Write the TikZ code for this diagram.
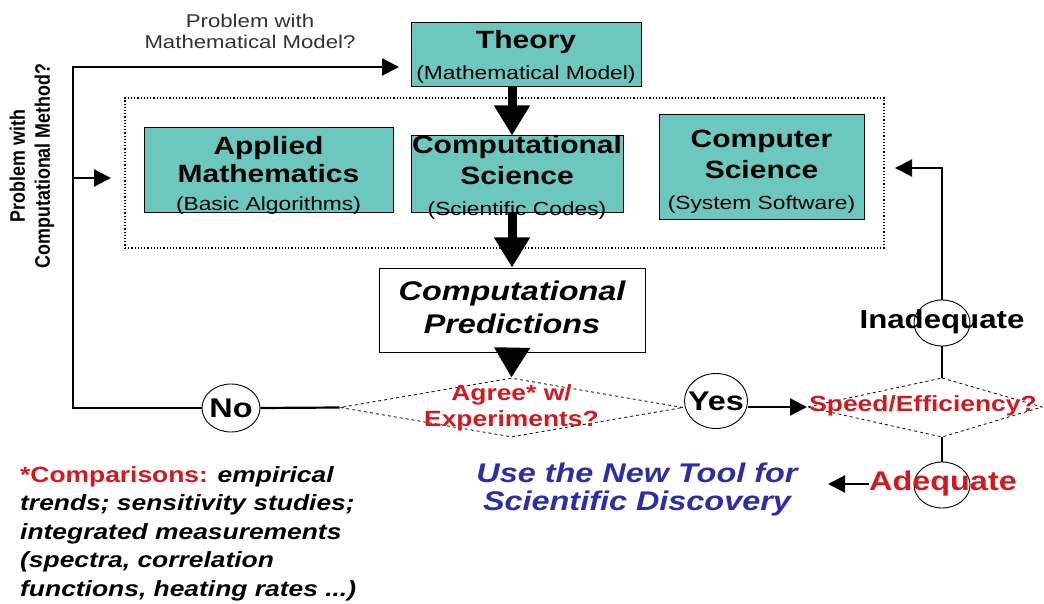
\documentclass[tikz,border=0pt]{standalone}
\usepackage{fontspec}
\setmainfont{Liberation Sans}[FakeStretch=1.2]
\newfontfamily\narrowfont{Liberation Sans}[FakeStretch=0.85]
\usetikzlibrary{arrows.meta,shapes.geometric}
\definecolor{tealfill}{RGB}{108,200,190}
\definecolor{myred}{RGB}{210,25,30}
\definecolor{myblue}{RGB}{45,45,165}
\definecolor{mygray}{RGB}{50,50,50}
\newcommand\fs[2]{\fontsize{#1}{#2}\selectfont}
\begin{document}
\begin{tikzpicture}[x=1pt,y=-1pt,
  box/.style={draw=black, line width=1, fill=tealfill, inner sep=0},
  boxtext/.style={inner sep=0, align=center, font=\fs{25}{31}\bfseries},
  heavy/.style={line width=9, -{Triangle[width=34pt,length=30pt]}},
  conn/.style={line width=2.2},
  thinarrow/.style={line width=2.2, -{Triangle[width=17pt,length=17pt]}},
  dia/.style={shape=diamond, draw, dashed, line width=0.8, inner sep=0},
  ell/.style={ellipse, draw, line width=0.9, inner sep=0},
  redtxt/.style={text=myred, align=center, inner sep=0},
  big/.style={font=\fs{27}{30}\bfseries, inner sep=0}
]
\useasboundingbox (0,0) rectangle (1044,604);

% dotted group
\node[draw, dotted, line width=1.2, minimum width=759, minimum height=150, inner sep=0] (group) at (504.5,173) {};

% boxes
\node[box, minimum width=230, minimum height=64] (theory) at (526,55) {};
\node[boxtext] (theoryt) at ([yshift=-2]theory.center)
  {Theory\\{\mdseries\fs{19}{29}(Mathematical Model)}};
\node[box, minimum width=249, minimum height=85] (appl) at (268.5,170.5) {};
\node[boxtext, font=\fs{25}{28}\bfseries] (applt) at ([yshift=-5]appl.center)
  {Applied\\Mathematics\\{\mdseries\fs{19}{28}(Basic Algorithms)}};
\node[box, minimum width=212, minimum height=77] (comp) at (517,174.5) {};
\node[boxtext] (compt) at ([yshift=-3]comp.center)
  {Computational\\Science\\{\mdseries\fs{19}{28}(Scientific Codes)}};
\node[box, minimum width=205, minimum height=105] (cs) at (761.5,167.5) {};
\node[boxtext] (cst) at ([yshift=-4]cs.center)
  {Computer\\Science\\{\mdseries\fs{19}{28}(System Software)}};

\node[draw, line width=1, fill=white, inner sep=0, minimum width=266, minimum height=84] (pred) at (512,310) {};
\node[inner sep=0, align=center, font=\fs{27}{33}\bfseries\itshape] (predt) at ([yshift=3]pred.center)
  {Computational\\Predictions};

% decision diamonds
\node[dia, minimum width=343, minimum height=59] (agree) at (511.5,407.5) {};
\node[redtxt, font=\fs{22}{26}\bfseries] (agreet) at (agree.center) {Agree* w/\\Experiments?};

\coordinate (spn) at (942,378);
\coordinate (spe) at (1042,407);
\coordinate (sps) at (942,437);
\coordinate (spw) at (807,407);
\draw[dashed, line width=0.8] (spn) -- (spe) -- (sps) -- (spw) -- cycle;
\node[redtxt, font=\fs{22}{26}\bfseries] (speedt) at (923,406) {Speed/Efficiency?};

% ellipses
\node[ell, minimum width=58, minimum height=48] (no) at (231,408) {};
\node[big] (not) at (no.center) {No};
\node[ell, minimum width=63, minimum height=55] (yes) at (716,401) {};
\node[big] (yest) at (yes.center) {Yes};
\node[ell, minimum width=56, minimum height=46] (inad) at (942,323) {};
\node[big, font=\fs{26}{28}\bfseries] (inadt) at (942,322) {Inadequate};
\node[ell, minimum width=56, minimum height=46] (adeq) at (942,485) {};
\node[big, text=myred] (adeqt) at (943,484) {Adequate};

% coordinates for free ends
\coordinate (ltop) at (73,67);
\coordinate (tin) at (399,67);
\coordinate (lmid) at (73,178);
\coordinate (gin) at (111,178);
\coordinate (csin) at (895,168);
\coordinate (utin) at (828,483);

% heavy arrows
\draw[heavy] (pred.north |- theory.south) -- (pred.north |- comp.north);
\draw[heavy] (pred.north |- comp.south) -- (pred.north);
\draw[heavy] (pred.south) -- (agree.north);

% connectors
\draw[conn] (agree.west) -- (no.east);
\draw[thinarrow] (no.west) -| (ltop) -- (tin);
\draw[thinarrow] (lmid) -- (gin);
\draw[thinarrow] (yes.east |- spw) -- (spw);
\draw[conn] (spn) -- (inad.south);
\draw[thinarrow] (inad.north) |- (csin);
\draw[conn] (sps) -- (adeq.north);
\draw[thinarrow] (adeqt.west) -- (adeqt.west -| utin);

% texts
\node[font=\fs{18.5}{21}, text=mygray, align=center] (pmm) at (250,31)
  {Problem with\\Mathematical Model?};
\node[rotate=90, font=\narrowfont\fs{21}{25}\bfseries, align=center] (pcm) at (32,166)
  {Problem with\\Computational Method?};
\node[anchor=north west, inner sep=0, align=left, font=\fs{22}{28.5}\bfseries\itshape] (cmp) at (20,466)
  {{\upshape\color{myred}*Comparisons:} empirical\\trends; sensitivity studies;\\integrated measurements\\(spectra, correlation\\functions, heating rates ...)};
\node[font=\fs{27}{28}\bfseries\itshape, text=myblue, align=center] (tool) at (637,490)
  {Use the New Tool for\\Scientific Discovery};
\end{tikzpicture}
\end{document}
